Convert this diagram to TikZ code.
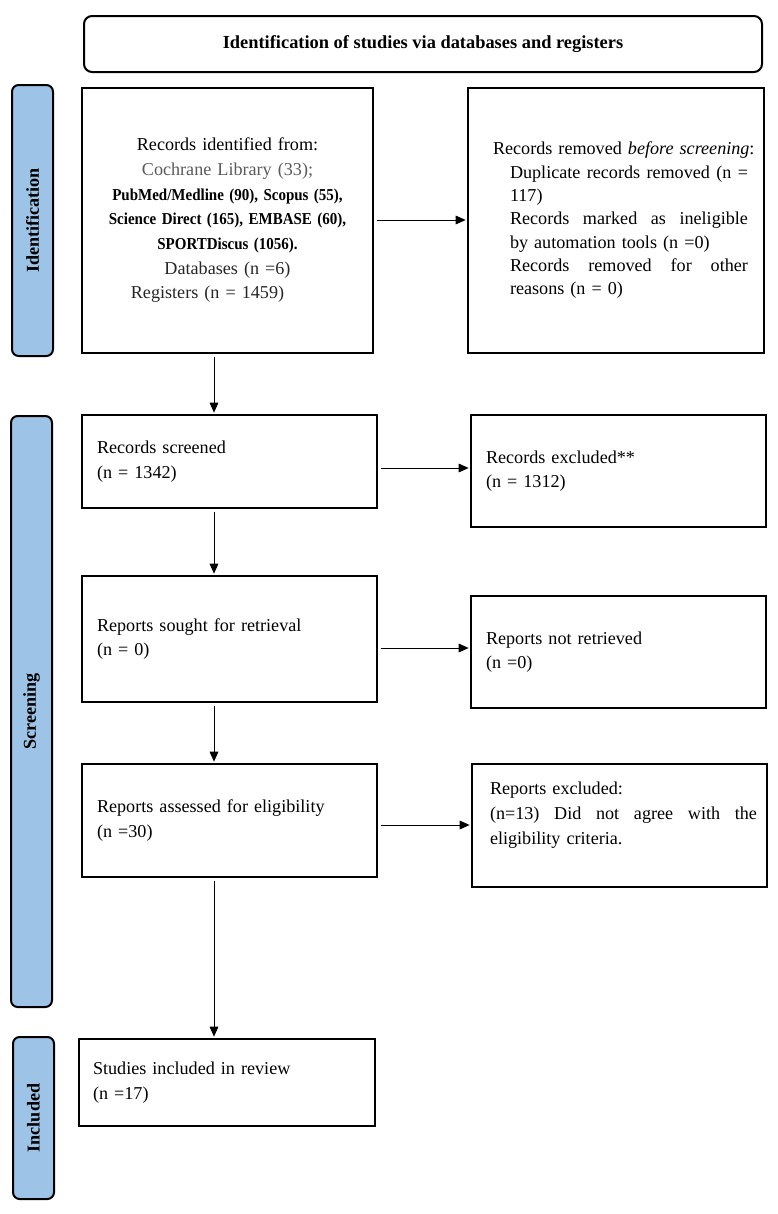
\documentclass[tikz,border=0pt]{standalone}
\usepackage{fontspec}
\usepackage{graphicx}
\setmainfont{Liberation Serif}
\usetikzlibrary{arrows.meta}
\definecolor{barblue}{RGB}{157,195,230}
\definecolor{softgray}{RGB}{90,90,90}
\newcommand\jline[2]{\hbox to #1{#2}}
\newcommand\bline[1]{{\bfseries\fontsize{12.5}{18.5}\selectfont\scalebox{0.9}[1]{#1}}}
\begin{document}
\begin{tikzpicture}[x=0.75pt,y=-0.75pt,
  box/.style={draw=black, line width=1.5pt, inner sep=0pt, font=\fontsize{13.6}{18.5}\selectfont},
  txt/.style={text width=198.75pt, align=left},
  side/.style={draw=black, line width=1.5pt, fill=barblue, rounded corners=5pt, inner sep=0pt, minimum width=30.75pt},
  sidelabel/.style={rotate=90, inner sep=0pt, font=\bfseries\fontsize{13.6}{16}\selectfont},
  arr/.style={-{Triangle[length=7.5pt,width=6.5pt]}, line width=0.75pt, shorten <=2pt, shorten >=1pt}
]
\useasboundingbox (0,0) rectangle (778,1214);

% title
\node[box, rounded corners=6pt, minimum width=508.5pt, minimum height=42pt,
      font=\bfseries\fontsize{13.8}{16}\selectfont] (title) at (423,44)
  {Identification of studies via databases and registers};

% side bars
\node[side, minimum height=203.25pt] (sideI) at (32.5,220.5) {};
\node[sidelabel] (sideIt) at (sideI) {Identification};
\node[side, minimum height=443.25pt] (sideS) at (31.5,711.5) {};
\node[sidelabel] (sideSt) at (sideS) {Screening};
\node[side, minimum height=121.5pt] (sideN) at (33.5,1118) {};
\node[sidelabel] (sideNt) at (sideN) {Included};

% identification
\node[box, minimum width=218.25pt, minimum height=198.75pt, text width=215pt, align=center] (b1) at (227.5,220.5)
  {Records identified from:\\
   {\color{softgray}Cochrane Library (33);}\\
   \bline{PubMed/Medline (90), Scopus (55),}\\
   \bline{Science Direct (165), EMBASE (60),}\\
   \bline{SPORTDiscus (1056).}\\
   {\color{black!85}Databases (n =6)}\\
   \mbox{\color{black!85}Registers (n = 1459)\hspace{30pt}}};

\node[box, minimum width=222pt, minimum height=198.75pt, text width=198pt, align=left,
      font=\fontsize{13.6}{17.5}\selectfont] (b2) at (616,220.5)
  {\hspace*{6.75pt}\mbox{Records removed \textit{before screening}:}\\
   \hspace*{19.5pt}\jline{178.5pt}{Duplicate\hfill records\hfill removed\hfill (n\hfill =}\\
   \hspace*{19.5pt}117)\\
   \hspace*{19.5pt}\jline{178.5pt}{Records\hfill marked\hfill as\hfill ineligible}\\
   \hspace*{19.5pt}by automation tools (n =0)\\
   \hspace*{19.5pt}\jline{178.5pt}{Records\hfill removed\hfill for\hfill other}\\
   \hspace*{19.5pt}reasons (n = 0)};

% screening
\node[box, txt, minimum width=221.25pt, minimum height=69.75pt] (b3) at (229.5,461.5)
  {Records screened\\(n = 1342)};
\node[box, txt, minimum width=221.25pt, minimum height=84pt] (b4) at (618.5,471)
  {Records excluded**\\(n = 1312)};
\node[box, txt, minimum width=221.25pt, minimum height=94.5pt] (b5) at (229.5,639)
  {Reports sought for retrieval\\(n = 0)};
\node[box, txt, minimum width=221.25pt, minimum height=84pt] (b6) at (618.5,652)
  {Reports not retrieved\\(n =0)};
\node[box, txt, minimum width=221.25pt, minimum height=84.75pt] (b7) at (229.5,820.5)
  {Reports assessed for eligibility\\(n =30)};
\node[box, text width=206.25pt, align=left, minimum width=221.25pt, minimum height=92.25pt] (b8) at (619.5,825.5)
  {\hspace*{6pt}Reports excluded:\\
   \hspace*{6pt}\jline{200.25pt}{(n=13)\hfill Did\hfill not\hfill agree\hfill with\hfill the}\\
   \hspace*{6pt}eligibility criteria.\\
   \mbox{}};

% included
\node[box, text width=201pt, align=left, minimum width=222pt, minimum height=65.25pt] (b9) at (227,1082.5)
  {Studies included in review\\(n =17)};

% connectors
\coordinate (vx) at (214,0);
\coordinate (h1) at (0,220);
\coordinate (h2) at (0,468);
\coordinate (h3) at (0,648);
\coordinate (h4) at (0,825);
\draw[arr] (b1.east |- h1) -- (b2.west |- h1);
\draw[arr] (b3.east |- h2) -- (b4.west |- h2);
\draw[arr] (b5.east |- h3) -- (b6.west |- h3);
\draw[arr] (b7.east |- h4) -- (b8.west |- h4);
\draw[arr] (b1.south -| vx) -- (b3.north -| vx);
\draw[arr] (b3.south -| vx) -- (b5.north -| vx);
\draw[arr] (b5.south -| vx) -- (b7.north -| vx);
\draw[arr] (b7.south -| vx) -- (b9.north -| vx);
\end{tikzpicture}
\end{document}
